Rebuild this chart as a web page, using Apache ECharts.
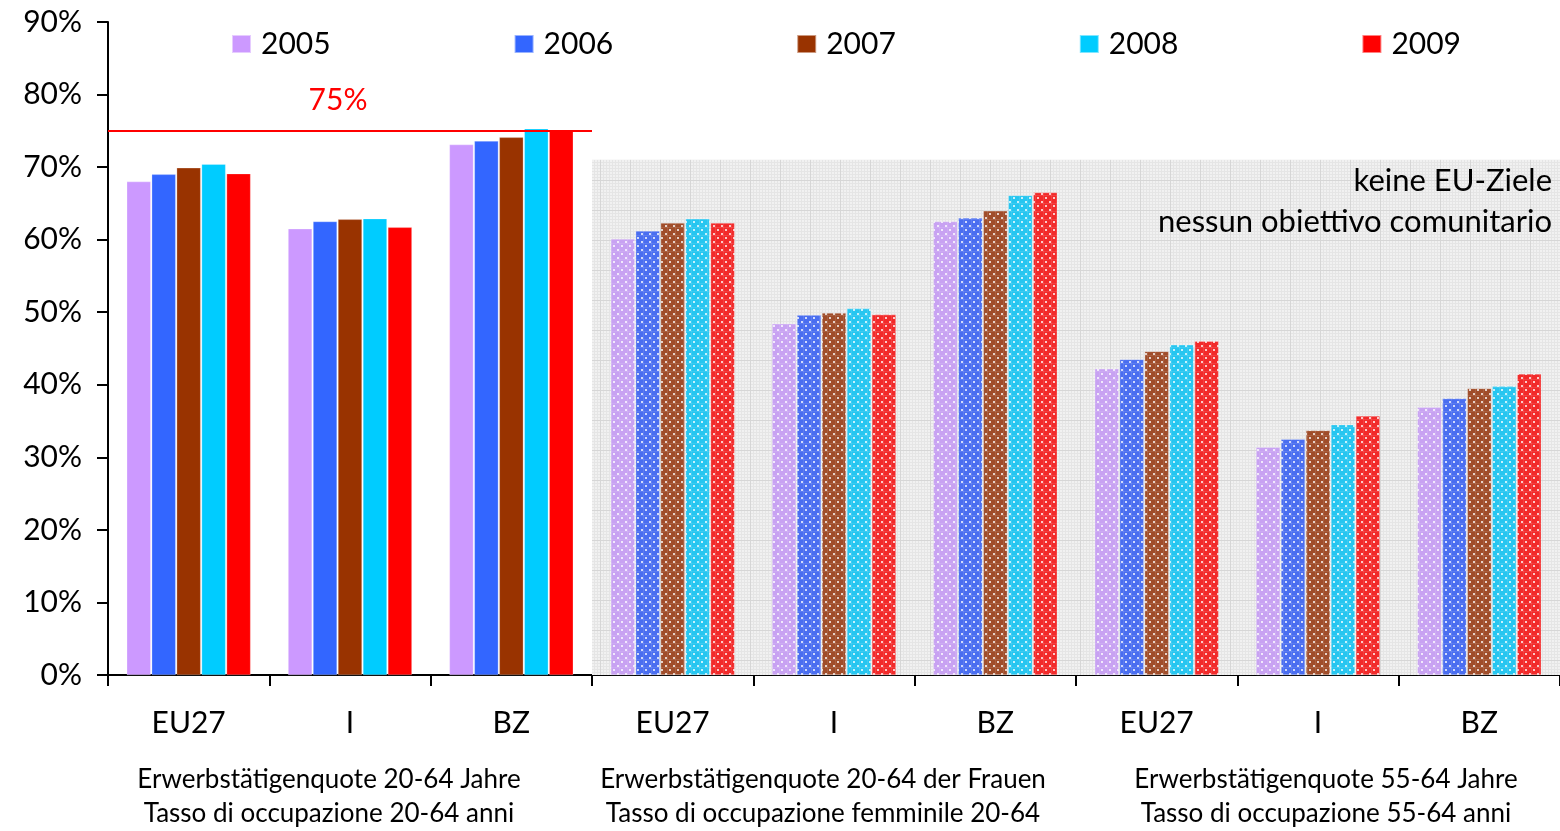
<!DOCTYPE html>
<html><head><meta charset="utf-8">
<script src="https://cdn.jsdelivr.net/npm/echarts@6/dist/echarts.min.js"></script>
<style>html,body{margin:0;padding:0;background:#fff}#c{width:1560px;height:831px}</style>
</head><body><div id="c"></div>
<script>
const categories = ['EU27','I','BZ','EU27','I','BZ','EU27','I','BZ'];
const groupTitles = [
  'Erwerbstätigenquote 20-64 Jahre\nTasso di occupazione 20-64 anni',
  'Erwerbstätigenquote 20-64 der Frauen\nTasso di occupazione femminile 20-64',
  'Erwerbstätigenquote 55-64 Jahre\nTasso di occupazione 55-64 anni'
];
const years = ['2005','2006','2007','2008','2009'];
const v2005 = [68.0, 61.5, 73.1, 60.1, 48.4, 62.5, 42.2, 31.4, 36.9];
const v2006 = [69.0, 62.5, 73.6, 61.2, 49.6, 63.0, 43.5, 32.5, 38.1];
const v2007 = [69.9, 62.8, 74.1, 62.3, 49.9, 64.0, 44.6, 33.7, 39.5];
const v2008 = [70.4, 62.9, 75.3, 62.9, 50.5, 66.1, 45.5, 34.5, 39.8];
const v2009 = [69.1, 61.7, 75.1, 62.3, 49.7, 66.5, 46.0, 35.7, 41.5];
const target = 75;
const yTicks = [0,10,20,30,40,50,60,70,80,90];

const seriesValues = [v2005, v2006, v2007, v2008, v2009];
const solid = ['#cc99ff','#3366ff','#993300','#00ccff','#ff0000'];
const muted = ['#c8a2f2','#4a6ef0','#a04d2a','#26c6f0','#f22a2a'];

function dotPattern(col){
  const c = document.createElement('canvas'); c.width = 8; c.height = 8;
  const g = c.getContext('2d');
  g.fillStyle = col; g.fillRect(0,0,8,8);
  g.fillStyle = 'rgba(255,255,255,0.10)';
  g.fillRect(0,3,8,1); g.fillRect(3,0,1,8);
  g.fillStyle = 'rgba(255,255,255,0.75)';
  g.fillRect(1,1,2,2); g.fillRect(5,5,2,2);
  return {image: c, repeat: 'repeat'};
}
function bgPattern(){
  const c = document.createElement('canvas'); c.width = 30; c.height = 30;
  const g = c.getContext('2d');
  g.fillStyle = '#f1f1f1'; g.fillRect(0,0,30,30);
  g.fillStyle = '#e5e5e5';
  for (let i = 0; i < 30; i += 3){ g.fillRect(i,0,1,30); g.fillRect(0,i,30,1); }
  g.fillStyle = '#d6d6d6'; g.fillRect(0,0,1,30); g.fillRect(0,0,30,1);
  return {image: c, repeat: 'repeat'};
}

const FONT = 'Lato';
const series = years.map((y, s) => ({
  name: y, type: 'bar', xAxisIndex: 0, yAxisIndex: 0,
  barWidth: 24, barGap: '4%', z: 3,
  itemStyle: {color: solid[s], borderColor: 'rgba(255,255,255,0.5)', borderWidth: 0.5},
  data: seriesValues[s].map((v, i) => i < 3 ? v : {value: v, itemStyle: {color: dotPattern(muted[s])}})
}));
series.push({
  type: 'line', xAxisIndex: 2, yAxisIndex: 0, data: [], z: 1, silent: true,
  markArea: {silent: true, itemStyle: {color: bgPattern()},
    data: [[{coord: [3, 71]}, {coord: [9, 0]}]]},
  markLine: {silent: true, symbol: 'none', animation: false,
    lineStyle: {color: '#ff0000', width: 2, type: 'solid'},
    label: {show: true, position: 'middle', formatter: target + '%', color: '#ff0000',
      fontSize: 30, fontFamily: FONT, distance: 16, padding: [0, 24, 0, 0]},
    data: [[{coord: [0, target]}, {coord: [3, target]}]]}
});

const titleItems = groupTitles.map((t, i) => ({
  value: t,
  textStyle: {padding: i === 0 ? [0, 42, 0, 0] : (i === 1 ? [0, 22, 0, 0] : [0, 0, 0, 16])}
}));

const chart = echarts.init(document.getElementById('c'));
chart.setOption({
  animation: false,
  textStyle: {fontFamily: FONT},
  grid: {left: 108, top: 22, width: 1458, bottom: 155},
  legend: {
    data: years, left: 231, top: 29, padding: 0, itemWidth: 19, itemHeight: 18, itemGap: 183,
    icon: 'rect',
    textStyle: {fontSize: 30, color: '#000', fontFamily: FONT, padding: [0,0,0,5], lineHeight: 30}
  },
  xAxis: [
    {type: 'category', data: categories, position: 'bottom',
      axisLine: {lineStyle: {color: '#000', width: 2}},
      axisTick: {show: true, length: 11, lineStyle: {color: '#000', width: 2}},
      axisLabel: {fontSize: 30, color: '#000', margin: 33, fontFamily: FONT}},
    {type: 'category', data: titleItems, position: 'bottom',
      axisLine: {show: false}, axisTick: {show: false},
      axisLabel: {fontSize: 26, color: '#000', margin: 88, lineHeight: 34, fontFamily: FONT, interval: 0}},
    {type: 'value', min: 0, max: 9, show: false}
  ],
  yAxis: {type: 'value', min: 0, max: 90, interval: 10,
    axisLine: {show: true, lineStyle: {color: '#000', width: 2}},
    axisTick: {show: true, length: 11, lineStyle: {color: '#000', width: 2}},
    splitLine: {show: false},
    axisLabel: {fontSize: 30, color: '#000', margin: 26, fontFamily: FONT,
      formatter: v => yTicks.includes(v) ? v + '%' : ''}},
  graphic: [
    {type: 'text', right: 8, top: 165, z: 10,
      style: {text: 'keine EU-Ziele', fontSize: 31, fontFamily: FONT, fill: '#000', textAlign: 'right'}},
    {type: 'text', right: 8, top: 206, z: 10,
      style: {text: 'nessun obiettivo comunitario', fontSize: 31, fontFamily: FONT, fill: '#000', textAlign: 'right'}}
  ],
  series: series
});
</script></body></html>
